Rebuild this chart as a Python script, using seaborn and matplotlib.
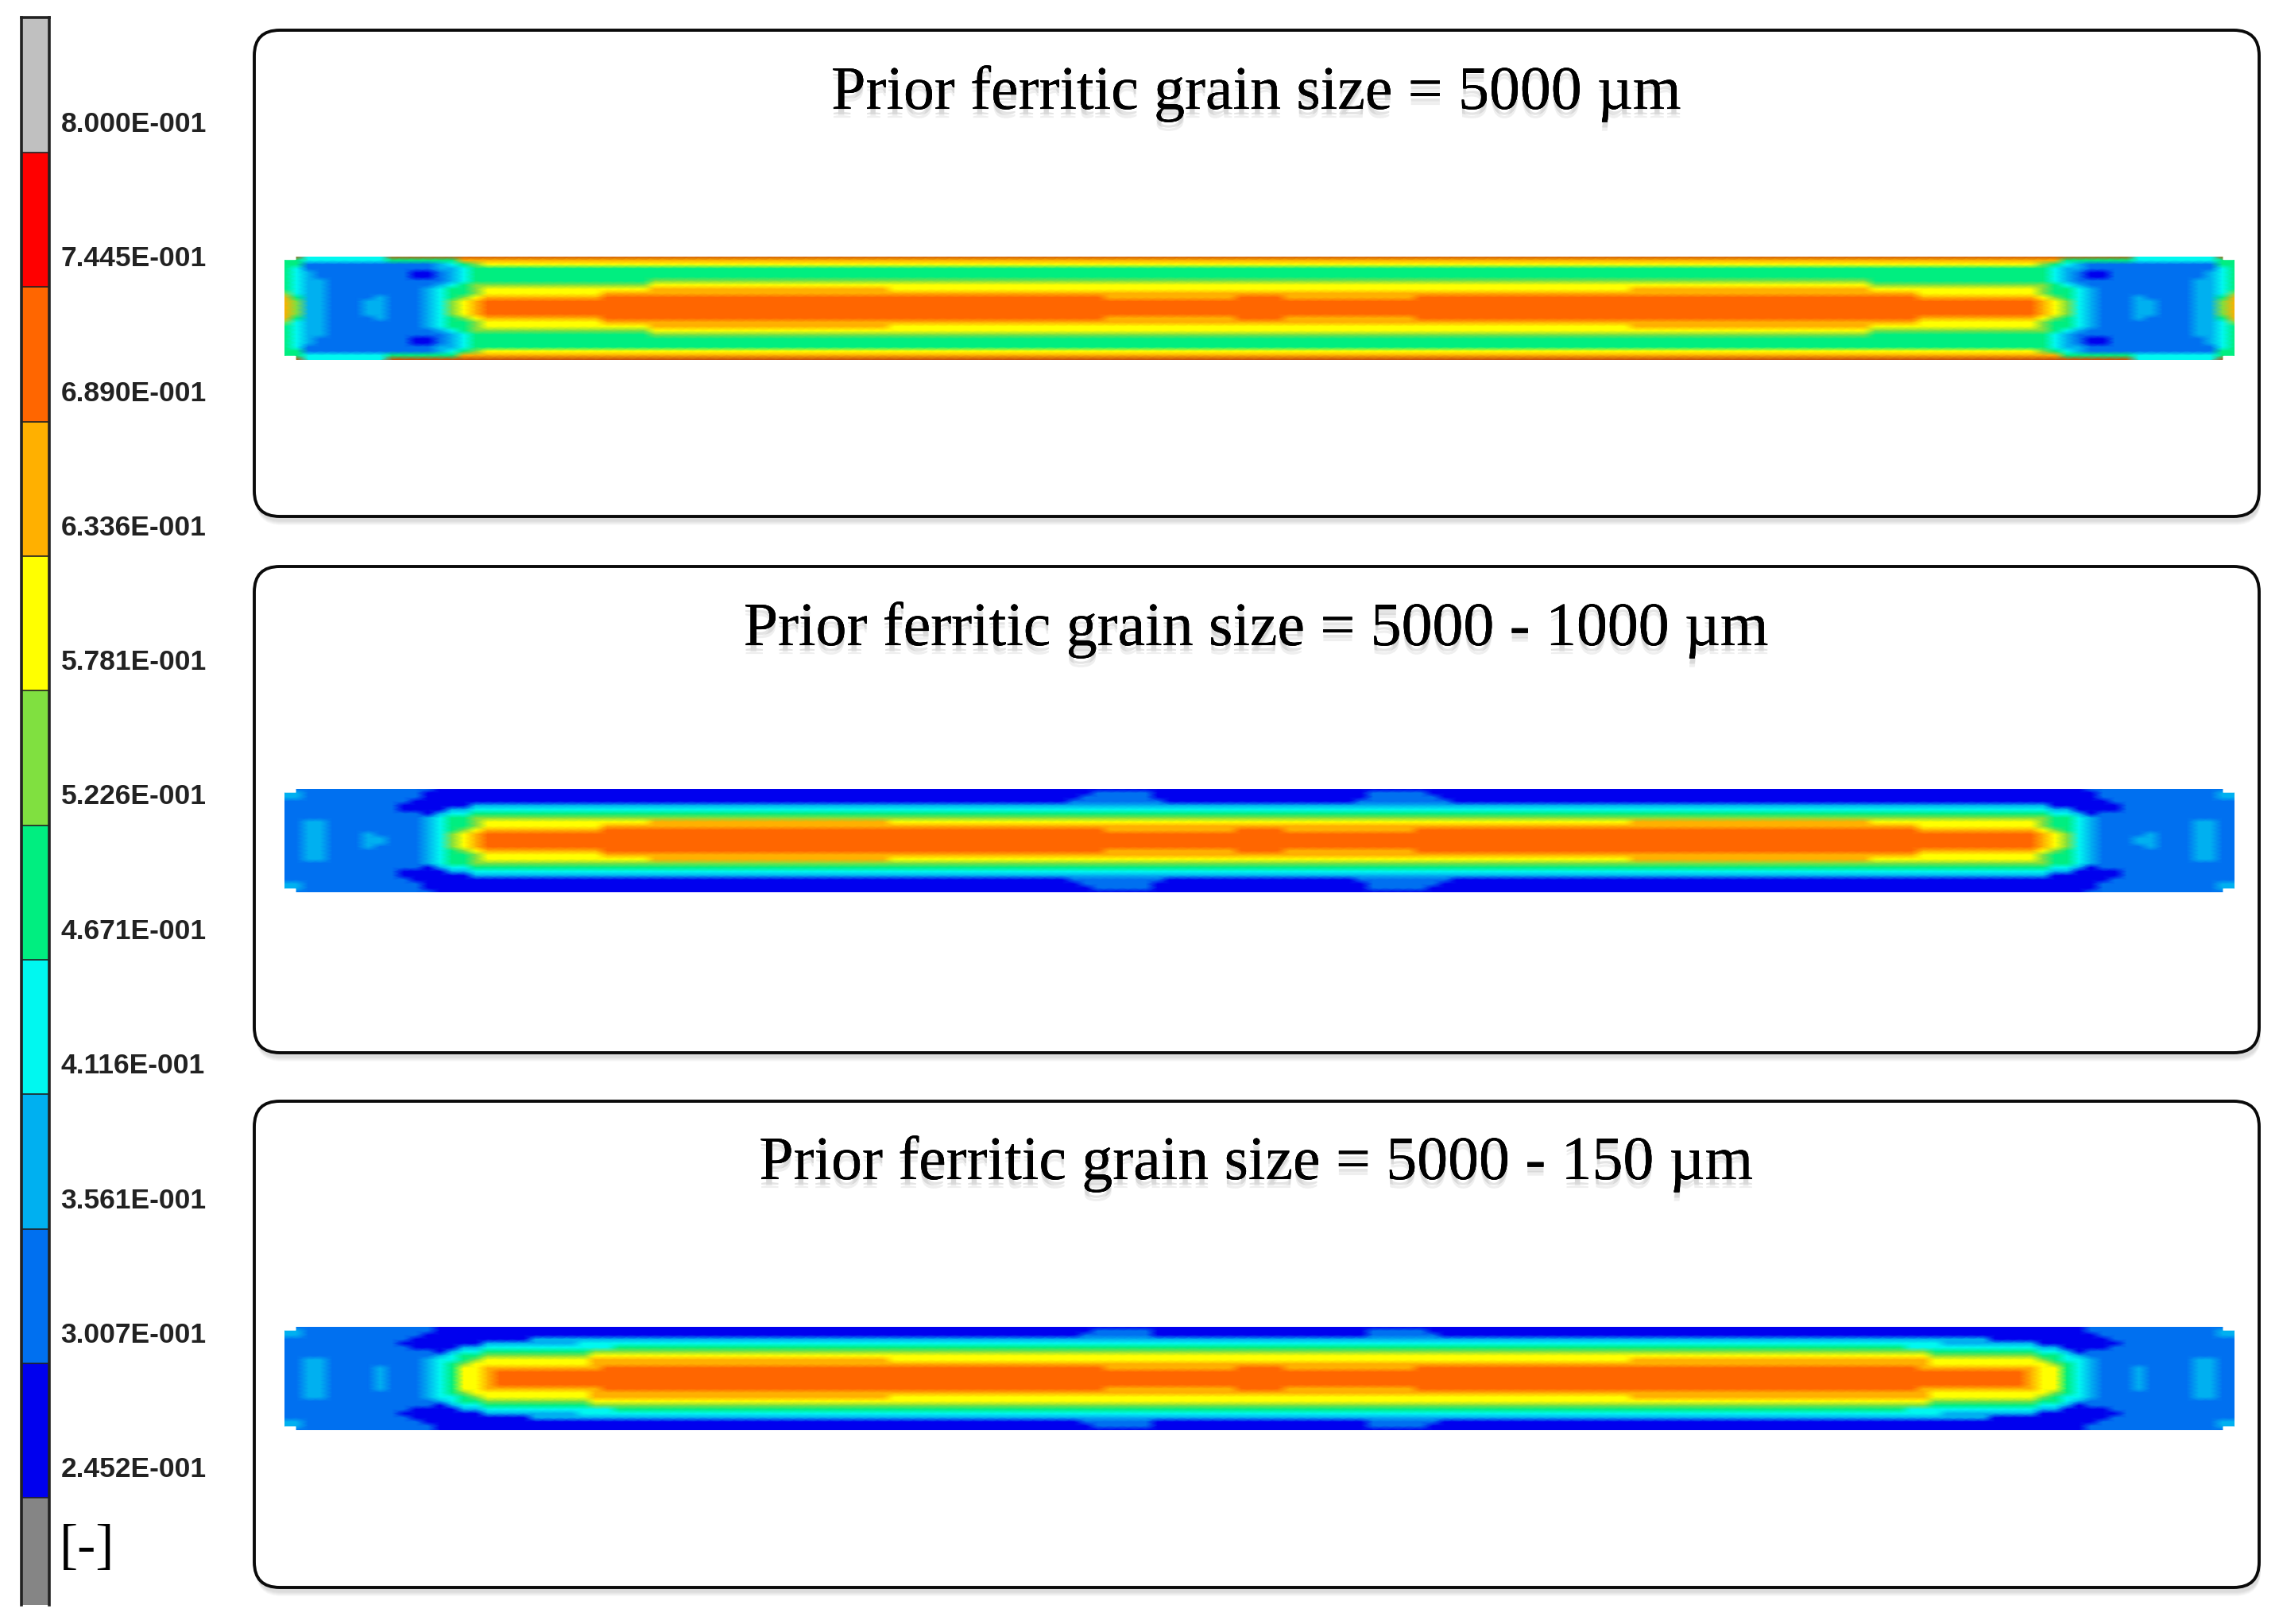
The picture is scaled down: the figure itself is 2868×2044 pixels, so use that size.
import numpy as np
import pandas as pd
import seaborn as sns
import matplotlib
matplotlib.use("Agg")
import matplotlib.pyplot as plt
import matplotlib.patheffects as pe
from matplotlib.colors import ListedColormap
from matplotlib.patches import FancyBboxPatch

# ---- colour legend (top to bottom) -------------------------------------
LEGEND_LABELS = ["8.000E-001", "7.445E-001", "6.890E-001", "6.336E-001", "5.781E-001", "5.226E-001",
                 "4.671E-001", "4.116E-001", "3.561E-001", "3.007E-001", "2.452E-001"]
LEGEND_VALUES = [0.8000, 0.7445, 0.6890, 0.6336, 0.5781, 0.5226, 0.4671, 0.4116, 0.3561, 0.3007, 0.2452]
# band codes, lowest to highest, plus m = dark edge-line pixels of the top strip
BAND_CODES = "abcdefghijklm"
BAND_COLORS = ["#858585", "#0000ee", "#0070f0", "#00b0f0", "#00f8f0", "#00ee80", "#80e040",
               "#ffff00", "#ffb000", "#ff6600", "#ff0000", "#c0c0c0", "#c8500a"]
TITLES = ["Prior ferritic grain size = 5000 µm",
          "Prior ferritic grain size = 5000 - 1000 µm",
          "Prior ferritic grain size = 5000 - 150 µm"]

# ---- contour bands: quarter of each strip -------------------------------
# (outer edge -> mid-thickness, end of the strip -> mid-length)
FIELD_5000 = [
    "." + "m" + "e"*7 + "m"*73,
    "ff" + "e"*7 + "f"*6 + "i"*67,
    "ff" + "c"*11 + "d" + "e" + "f" + "g" + "h"*65,
    "fe" + "c"*11 + "dd" + "e" + "f"*66,
    "fed" + "c"*8 + "bb" + "c" + "d" + "e" + "f"*66,
    "fed" + "c"*8 + "bb" + "c" + "d" + "e" + "f"*66,
    "fed" + "d" + "c"*9 + "c" + "d" + "e" + "f"*15 + "g"*51,
    "fed" + "d" + "c"*9 + "d" + "e" + "f" + "g" + "g"*14 + "h"*51,
    "fedd" + "c"*8 + "d" + "e" + "ff" + "g" + "h"*14 + "i"*20 + "h"*31,
    "gedd" + "c"*8 + "d" + "e" + "ff" + "g" + "h"*10 + "i"*55,
    "ifdd" + "cccc" + "d" + "ccc" + "def" + "gh" + "i"*10 + "j"*42 + "i"*11 + "jj",
    "igdd" + "ccc" + "dd" + "ccc" + "deg" + "h" + "i" + "j"*65,
    "igdd" + "ccc" + "dd" + "ccc" + "deg" + "h" + "i" + "j"*65,
]
FIELD_1000 = [
    "." + "c"*12 + "b"*69,
    "dd" + "c"*10 + "b"*56 + "c"*5 + "b"*9,
    "dd" + "c"*10 + "b"*55 + "c"*6 + "b"*9,
    "c"*11 + "b"*55 + "c"*8 + "b"*8,
    "c"*10 + "b"*6 + "d"*66,
    "c"*10 + "b"*4 + "dd" + "e"*66,
    "c"*12 + "b" + "d" + "ee" + "f"*66,
    "c"*12 + "d" + "e" + "ff" + "g"*66,
    "ccddcccccccc" + "d" + "e" + "ff" + "g" + "h"*14 + "i"*20 + "h"*31,
    "ccddcccccccc" + "d" + "e" + "ff" + "g" + "h"*10 + "i"*55,
    "ccddcccccccc" + "def" + "gh" + "i"*10 + "j"*42 + "i"*11 + "jj",
    "ccddcccdcccc" + "deg" + "h" + "i" + "j"*65,
    "ccddcccddccc" + "deg" + "h" + "i" + "j"*65,
]
FIELD_150 = [
    "." + "c"*12 + "b"*69,
    "dd" + "c"*11 + "b"*55 + "c"*5 + "b"*9,
    "dd" + "c"*10 + "b"*55 + "c"*6 + "b"*9,
    "c"*11 + "b"*10 + "d"*61,
    "c"*10 + "b"*7 + "d"*8 + "e"*57,
    "c"*11 + "b"*4 + "dd" + "e"*11 + "f"*54,
    "c"*13 + "b" + "d" + "ee" + "f"*9 + "g"*56,
    "c"*13 + "d" + "e" + "ff" + "g"*9 + "h"*56,
    "ccddcccccccc" + "d" + "e" + "e" + "f" + "g" + "h"*9 + "i"*25 + "h"*31,
    "ccddcccccccc" + "d" + "e" + "f" + "g" + "h"*10 + "i"*56,
    "ccddccccdccc" + "def" + "hh" + "i"*10 + "j"*42 + "i"*11 + "jj",
    "ccddccccdccc" + "def" + "hh" + "i" + "j"*64,
    "ccddccccdccc" + "def" + "hh" + "i" + "j"*64,
]
FIELDS = [FIELD_5000, FIELD_1000, FIELD_150]

# ---- layout -------------------------------------------------------------
W, H = 2868, 2044
PANELS_Y = [(38, 650), (713, 1325), (1386, 1998)]
PANEL_X = (320, 2843)
STRIP_X = (358, 2812)
STRIP_Y = [(322.5, 452.5), (993, 1123), (1670, 1800)]
TITLE_Y = [118, 793, 1465]

sns.set_theme(style="white")
plt.rcParams["font.family"] = ["Liberation Serif", "DejaVu Serif"]

fig = plt.figure(figsize=(W / 100, H / 100), dpi=100, facecolor="white")


def px_axes(x0, y0, x1, y1, **kw):
    return fig.add_axes([x0 / W, 1 - y1 / H, (x1 - x0) / W, (y1 - y0) / H], **kw)


# background layer in pixel coordinates for the frames and titles
bg = px_axes(0, 0, W, H)
bg.set_xlim(0, W)
bg.set_ylim(H, 0)
bg.axis("off")

shadow = [pe.withSimplePatchShadow(offset=(0, -5), shadow_rgbFace="#888888", alpha=0.22),
          pe.withSimplePatchShadow(offset=(0, -8), shadow_rgbFace="#aaaaaa", alpha=0.18),
          pe.Normal()]

for (y0, y1), ty, title in zip(PANELS_Y, TITLE_Y, TITLES):
    for k in range(6):
        bg.add_patch(FancyBboxPatch((PANEL_X[0] + 2, y0 + 6 + k), PANEL_X[1] - PANEL_X[0], y1 - y0,
                                    boxstyle="round,pad=0,rounding_size=32",
                                    fc="#555555", ec="none", alpha=0.035, zorder=1))
    bg.add_patch(FancyBboxPatch((PANEL_X[0], y0), PANEL_X[1] - PANEL_X[0], y1 - y0,
                                boxstyle="round,pad=0,rounding_size=32",
                                fc="white", ec="#0a0a0a", lw=2.8, zorder=2))
    t = bg.text(1581, ty, title, ha="center", va="center", fontsize=56,
                family="Liberation Serif", color="black", zorder=3)
    t.set_path_effects(shadow)

# contour strips
cmap = ListedColormap(BAND_COLORS)
for rows, (sy0, sy1) in zip(FIELDS, STRIP_Y):
    quarter = np.array([[np.nan if ch == "." else BAND_CODES.index(ch)
                         for ch in r.ljust(82, r[-1])[:82]] for r in rows], dtype=float)
    half = np.hstack([quarter, quarter[:, ::-1]])
    full = np.vstack([half, half[::-1]])
    ax = px_axes(STRIP_X[0], sy0, STRIP_X[1], sy1)
    ax.patch.set_alpha(0)
    sns.heatmap(pd.DataFrame(full), ax=ax, cmap=cmap, vmin=-0.5, vmax=len(BAND_COLORS) - 0.5,
                cbar=False, xticklabels=False, yticklabels=False, shading="gouraud")
    ax.set_xlim(0, full.shape[1] - 1)
    ax.set_ylim(full.shape[0] - 1, 0)

# legend colour bar
step = LEGEND_VALUES[0] - LEGEND_VALUES[1]
top = LEGEND_VALUES[0] + step * 170 / 169.3
bottom = LEGEND_VALUES[-1] - step * 135 / 169.3
edges = [bottom] + LEGEND_VALUES[::-1] + [top]
cb = px_axes(27, 22, 62, 2020)
cb.patch.set_alpha(0)
for code, lo, hi in zip(range(12), edges[:-1], edges[1:]):
    cb.bar(0, hi - lo, bottom=lo, width=1, color=BAND_COLORS[code], edgecolor="none")
    if code:
        cb.axhline(lo, color="#222222", lw=1.2)
cb.set_xlim(-0.5, 0.5)
cb.set_ylim(bottom, top)
cb.set_xticks([])
cb.yaxis.tick_right()
cb.set_yticks([v + step * 39 / 169.3 for v in LEGEND_VALUES])
cb.set_yticklabels(LEGEND_LABELS, family="Liberation Sans", fontweight="bold", fontsize=25.5, color="#222222")
cb.tick_params(axis="y", length=0, pad=10.5)
for name in ("left", "right", "top"):
    cb.spines[name].set_visible(True)
    cb.spines[name].set_color("#222222")
    cb.spines[name].set_linewidth(2.6)
cb.spines["bottom"].set_visible(False)

bg.text(75, 1950, "[-]", ha="left", va="center", fontsize=50, family="Liberation Serif",
        color="black", zorder=3)

fig.savefig("out.png", dpi=100, facecolor="white")
